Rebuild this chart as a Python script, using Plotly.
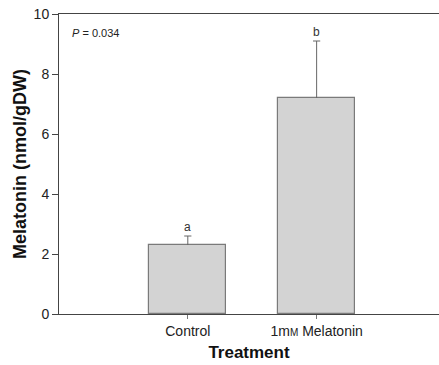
import plotly.graph_objects as go

# Melatonin content by treatment (mean + SE)
categories = ["Control", "1mM Melatonin"]
tick_labels = ["Control", "1m<span style='font-size:10px'>M</span> Melatonin"]
means = [2.3, 7.2]
errors = [0.3, 1.9]
letters = ["a", "b"]

x_pos = list(range(len(categories)))
cap_half = 0.028

fig = go.Figure()
fig.add_trace(go.Bar(
    x=x_pos,
    y=means,
    width=0.6,
    marker=dict(color="#d3d3d3", line=dict(color="#7a7a7a", width=1.2)),
    showlegend=False,
))

# upper-only error whiskers with a cap at the top
for xi, m, e in zip(x_pos, means, errors):
    fig.add_trace(go.Scatter(
        x=[xi, xi, None, xi - cap_half, xi + cap_half],
        y=[m, m + e, None, m + e, m + e],
        mode="lines", line=dict(color="#666666", width=1),
        showlegend=False, hoverinfo="skip",
    ))

# significance letters above error bars
for xi, m, e, lab in zip(x_pos, means, errors, letters):
    fig.add_annotation(x=xi, y=m + e, text=lab, showarrow=False,
                       yshift=9, font=dict(size=12, color="#333333"))

fig.add_annotation(xref="paper", yref="paper", x=0.028, y=0.935,
                   xanchor="left", yanchor="middle", showarrow=False,
                   text="<i>P</i> = 0.034",
                   font=dict(size=11, color="#222222"))

fig.update_layout(
    width=439, height=365,
    margin=dict(l=59, r=0, t=14, b=51),
    paper_bgcolor="white", plot_bgcolor="white",
    font=dict(family="Liberation Sans, Arial, sans-serif", color="#222222"),
    bargap=0,
)
fig.update_xaxes(
    range=[-1.0, 1.95],
    tickvals=x_pos, ticktext=tick_labels,
    ticks="outside", ticklen=4, tickcolor="#777777",
    showline=True, linecolor="#444444", linewidth=1, mirror=True,
    showgrid=False, zeroline=False,
    tickfont=dict(size=14, color="#222222"),
    title=dict(text="<b>Treatment</b>", font=dict(size=17, color="#111111"), standoff=8),
)
fig.update_yaxes(
    range=[0, 10], tickvals=[0, 2, 4, 6, 8, 10],
    ticks="outside", ticklen=6, tickcolor="#444444",
    showline=True, linecolor="#444444", linewidth=1,
    showgrid=False, zeroline=False,
    tickfont=dict(size=14, color="#222222"),
    title=dict(text="<b>Melatonin (nmol/gDW)</b>", font=dict(size=18, color="#111111"), standoff=2),
)

fig.write_html("out.html")
